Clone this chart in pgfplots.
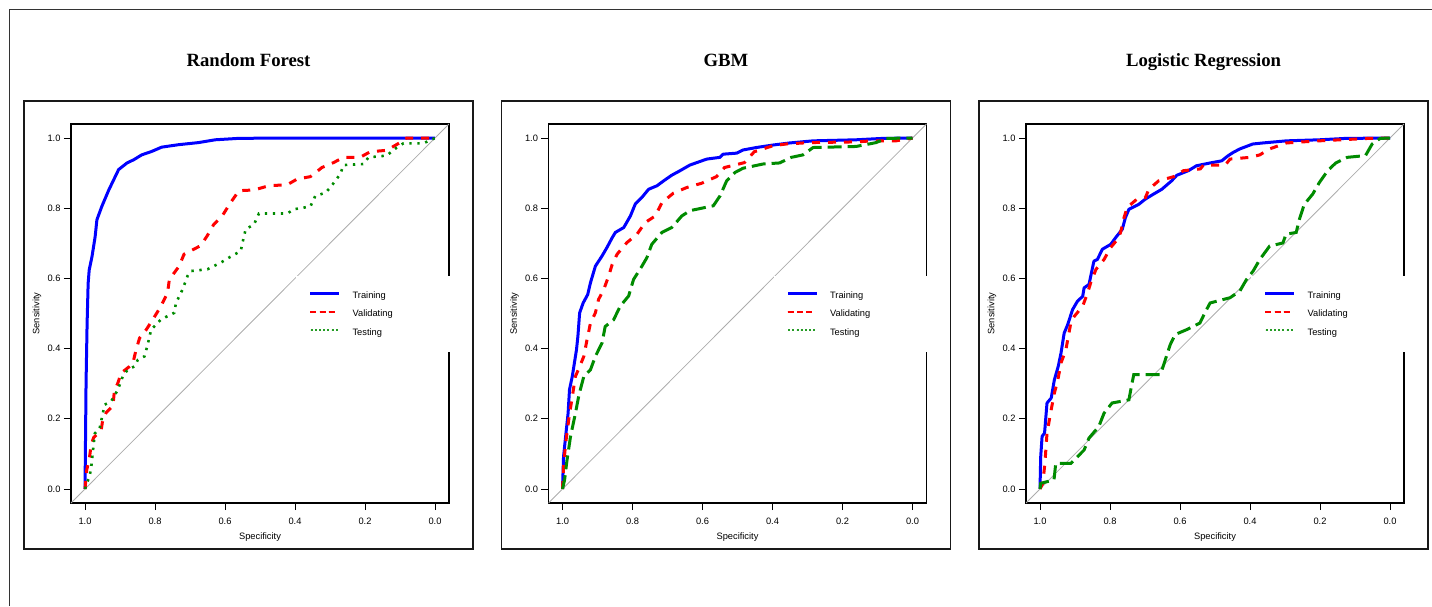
\documentclass[border=0pt]{standalone}
\usepackage{pgfplots}
\pgfplotsset{compat=1.18}
\usepackage{fontspec}
\setmainfont{Liberation Sans}
\newfontfamily\titlefont{Liberation Serif}
\definecolor{rblue}{RGB}{0,0,255}
\definecolor{rred}{RGB}{255,0,0}
\definecolor{rgreen}{RGB}{0,139,0}

\pgfplotsset{
  rocax/.style={
    width=378pt, height=379pt, scale only axis,
    anchor=south west,
    x dir=reverse,
    xmin=-0.04, xmax=1.04, ymin=-0.04, ymax=1.04,
    xtick={0,0.2,0.4,0.6,0.8,1}, xticklabels={0.0,0.2,0.4,0.6,0.8,1.0},
    ytick={0,0.2,0.4,0.6,0.8,1}, yticklabels={0.0,0.2,0.4,0.6,0.8,1.0},
    tick pos=left,
    tick align=outside, major tick length=7pt,
    tick style={black, line width=0.8pt},
    axis line style={line width=1.2pt, black},
    tick label style={font=\fontsize{9.3}{11}\selectfont},
    xticklabel style={yshift=-4pt},
    label style={font=\fontsize{9.3}{11}\selectfont},
    xlabel={Specificity}, ylabel={Sensitivity},
    xlabel style={at={(axis description cs:0.5,-0.0897)}, anchor=center},
    ylabel style={at={(axis description cs:-0.09,0.5)}, anchor=center},
    legend style={draw=none, fill=white, at={(0.5952,0.599)}, anchor=north west,
      inner xsep=14pt, inner ysep=15pt, row sep=9.5pt, column sep=14pt,
      font=\fontsize{9.3}{11}\selectfont,
      nodes={inner sep=0pt, text height=7pt, text depth=2pt}},
    legend cell align=left,
  },
  diag/.style={gray!65, line width=0.8pt, forget plot},
  trn/.style={draw=rblue, line width=3pt, line join=round, forget plot},
  val/.style={draw=rred, line width=3pt, dash pattern=on 8pt off 8pt, forget plot},
  tstdot/.style={draw=rgreen, line width=2.6pt, dash pattern=on 2.4pt off 5.6pt, forget plot},
  tstdash/.style={draw=rgreen, line width=3pt, dash pattern=on 14pt off 6pt, forget plot},
}
\newcommand{\rocleg}{%
  \addlegendimage{legend image code/.code={\fill[rblue] (0pt,1.85pt) rectangle (28pt,3.15pt);}}
  \addlegendentry{\makebox[84pt][l]{Training}}
  \addlegendimage{legend image code/.code={\fill[rred] (0pt,1.9pt) rectangle (5pt,3.1pt) (9.5pt,1.9pt) rectangle (14.5pt,3.1pt) (18.5pt,1.9pt) rectangle (23.5pt,3.1pt) (28pt,2.5pt) circle (0pt);}}
  \addlegendentry{\makebox[84pt][l]{Validating}}
  \addlegendimage{legend image code/.code={\fill[rgreen!85] (0.5pt,2pt) rectangle (1.5pt,3pt) (4.7pt,2pt) rectangle (5.7pt,3pt) (8.9pt,2pt) rectangle (9.9pt,3pt) (13.1pt,2pt) rectangle (14.1pt,3pt) (17.3pt,2pt) rectangle (18.3pt,3pt) (21.5pt,2pt) rectangle (22.5pt,3pt) (25.7pt,2pt) rectangle (26.7pt,3pt);}}
  \addlegendentry{\makebox[84pt][l]{Testing}}%
}

\begin{document}
\begin{tikzpicture}
\useasboundingbox (0pt,0pt) rectangle (1432pt,606pt);
\draw[line width=1pt, black!80] (9pt,0pt) -- (9pt,596pt) -- (1432pt,596pt);

% ---------- Random Forest ----------
\draw[line width=1.1pt, black!90] (24pt,57pt) rectangle (473pt,505pt);
\node[anchor=base, font=\titlefont\bfseries\fontsize{18.7}{22}\selectfont] at (248.5pt,539pt) {Random Forest};
\begin{axis}[rocax, at={(71pt,103pt)}]
\addplot[diag] coordinates {(1.04,-0.04) (-0.04,1.04)};
\addplot[trn] coordinates {(1,0) (0.999,0.09) (0.997,0.30) (0.994,0.471) (0.991,0.586) (0.988,0.624) (0.980,0.662) (0.971,0.719) (0.966,0.767) (0.952,0.805) (0.932,0.852) (0.918,0.881) (0.904,0.910) (0.880,0.929) (0.861,0.938) (0.838,0.952) (0.809,0.962) (0.781,0.974) (0.733,0.981) (0.676,0.987) (0.628,0.995) (0.562,0.999) (0.45,1) (0,1)};
\addplot[val] coordinates {(1,0) (0.995,0.054) (0.987,0.091) (0.982,0.128) (0.975,0.147) (0.954,0.166) (0.949,0.199) (0.939,0.218) (0.920,0.237) (0.916,0.280) (0.906,0.302) (0.897,0.330) (0.873,0.349) (0.863,0.359) (0.854,0.397) (0.844,0.430) (0.825,0.454) (0.806,0.483) (0.783,0.521) (0.764,0.559) (0.759,0.597) (0.731,0.635) (0.717,0.669) (0.670,0.693) (0.651,0.721) (0.632,0.754) (0.608,0.778) (0.584,0.816) (0.560,0.850) (0.517,0.852) (0.475,0.864) (0.422,0.867) (0.394,0.883) (0.356,0.890) (0.323,0.916) (0.290,0.930) (0.261,0.945) (0.214,0.945) (0.185,0.961) (0.138,0.965) (0.100,0.987) (0.090,0.997) (0.08,1) (0,1)};
\addplot[tstdot] coordinates {(1,0) (0.995,0.016) (0.987,0.035) (0.982,0.063) (0.977,0.111) (0.972,0.158) (0.958,0.173) (0.953,0.197) (0.944,0.240) (0.925,0.250) (0.906,0.283) (0.892,0.321) (0.878,0.340) (0.859,0.349) (0.849,0.368) (0.830,0.378) (0.821,0.411) (0.811,0.454) (0.783,0.483) (0.745,0.502) (0.740,0.530) (0.721,0.569) (0.707,0.607) (0.698,0.621) (0.650,0.626) (0.612,0.645) (0.589,0.659) (0.555,0.678) (0.551,0.697) (0.541,0.740) (0.517,0.754) (0.503,0.785) (0.422,0.785) (0.403,0.797) (0.356,0.805) (0.342,0.835) (0.313,0.844) (0.299,0.859) (0.285,0.878) (0.271,0.897) (0.261,0.923) (0.204,0.926) (0.190,0.945) (0.138,0.950) (0.109,0.973) (0.090,0.985) (0.033,0.985) (0,1)};
\rocleg
\end{axis}

% ---------- GBM ----------
\draw[line width=1.1pt, black!90] (501.5pt,57pt) rectangle (950.5pt,505pt);
\node[anchor=base, font=\titlefont\bfseries\fontsize{18.7}{22}\selectfont] at (726pt,539pt) {GBM};
\begin{axis}[rocax, at={(548.5pt,103pt)}]
\addplot[diag] coordinates {(1.04,-0.04) (-0.04,1.04)};
\addplot[trn] coordinates {(1,0) (0.997,0.092) (0.991,0.150) (0.984,0.216) (0.980,0.283) (0.972,0.321) (0.966,0.359) (0.960,0.397) (0.956,0.435) (0.951,0.502) (0.941,0.530) (0.928,0.554) (0.920,0.588) (0.906,0.635) (0.887,0.664) (0.873,0.688) (0.858,0.716) (0.849,0.731) (0.825,0.745) (0.806,0.778) (0.792,0.812) (0.773,0.831) (0.754,0.854) (0.730,0.864) (0.711,0.878) (0.688,0.894) (0.664,0.907) (0.636,0.923) (0.588,0.940) (0.550,0.945) (0.541,0.954) (0.502,0.957) (0.484,0.966) (0.446,0.973) (0.399,0.980) (0.351,0.986) (0.284,0.992) (0.161,0.995) (0.085,0.999) (0,1)};
\addplot[val] coordinates {(1,0) (0.997,0.064) (0.991,0.130) (0.981,0.206) (0.972,0.263) (0.963,0.321) (0.953,0.344) (0.939,0.378) (0.930,0.425) (0.920,0.473) (0.906,0.502) (0.897,0.540) (0.882,0.569) (0.868,0.607) (0.858,0.640) (0.844,0.669) (0.816,0.702) (0.787,0.726) (0.764,0.759) (0.735,0.778) (0.716,0.816) (0.683,0.843) (0.645,0.859) (0.603,0.871) (0.560,0.890) (0.537,0.916) (0.480,0.930) (0.452,0.961) (0.399,0.978) (0.361,0.983) (0.294,0.987) (0.161,0.989) (0.114,0.992) (0.047,0.992) (0,1)};
\addplot[tstdash] coordinates {(1,0) (0.994,0.026) (0.987,0.083) (0.977,0.150) (0.963,0.216) (0.953,0.268) (0.939,0.321) (0.920,0.340) (0.906,0.378) (0.887,0.416) (0.878,0.463) (0.854,0.482) (0.835,0.521) (0.811,0.550) (0.797,0.597) (0.773,0.635) (0.759,0.659) (0.745,0.697) (0.716,0.731) (0.688,0.745) (0.659,0.778) (0.636,0.793) (0.569,0.807) (0.550,0.835) (0.531,0.878) (0.507,0.902) (0.484,0.914) (0.427,0.926) (0.380,0.929) (0.346,0.945) (0.313,0.952) (0.284,0.973) (0.161,0.976) (0.104,0.987) (0.075,0.999) (0,1)};
\rocleg
\end{axis}

% ---------- Logistic Regression ----------
\draw[line width=1.1pt, black!90] (979pt,57pt) rectangle (1428pt,505pt);
\node[anchor=base, font=\titlefont\bfseries\fontsize{18.7}{22}\selectfont] at (1203.5pt,539pt) {Logistic Regression};
\begin{axis}[rocax, at={(1026pt,103pt)}]
\addplot[diag] coordinates {(1.04,-0.04) (-0.04,1.04)};
\addplot[trn] coordinates {(1,0) (0.998,0.092) (0.994,0.150) (0.987,0.159) (0.980,0.245) (0.968,0.259) (0.959,0.311) (0.948,0.349) (0.940,0.387) (0.931,0.444) (0.921,0.468) (0.907,0.511) (0.893,0.535) (0.878,0.549) (0.874,0.573) (0.860,0.583) (0.846,0.649) (0.836,0.654) (0.822,0.683) (0.798,0.697) (0.784,0.716) (0.765,0.740) (0.756,0.773) (0.746,0.797) (0.718,0.811) (0.699,0.826) (0.676,0.840) (0.652,0.854) (0.624,0.878) (0.609,0.894) (0.576,0.907) (0.553,0.921) (0.514,0.929) (0.481,0.935) (0.462,0.950) (0.448,0.959) (0.429,0.969) (0.392,0.983) (0.363,0.986) (0.296,0.992) (0.202,0.995) (0.126,0.999) (0,1)};
\addplot[val] coordinates {(1,0) (0.992,0.016) (0.986,0.073) (0.980,0.159) (0.968,0.226) (0.959,0.273) (0.949,0.311) (0.940,0.359) (0.926,0.397) (0.912,0.473) (0.902,0.492) (0.878,0.521) (0.864,0.559) (0.855,0.588) (0.840,0.626) (0.817,0.654) (0.798,0.688) (0.779,0.711) (0.770,0.730) (0.760,0.773) (0.751,0.802) (0.723,0.826) (0.699,0.830) (0.689,0.854) (0.661,0.878) (0.618,0.890) (0.590,0.907) (0.542,0.912) (0.533,0.923) (0.471,0.923) (0.457,0.940) (0.400,0.945) (0.372,0.952) (0.344,0.969) (0.296,0.986) (0.202,0.992) (0.060,0.999) (0,1)};
\addplot[tstdash] coordinates {(1,0) (0.998,0.016) (0.960,0.026) (0.955,0.073) (0.912,0.073) (0.893,0.092) (0.874,0.111) (0.860,0.145) (0.832,0.178) (0.817,0.216) (0.794,0.245) (0.746,0.254) (0.737,0.302) (0.732,0.326) (0.656,0.326) (0.642,0.368) (0.628,0.411) (0.614,0.440) (0.581,0.454) (0.543,0.473) (0.529,0.502) (0.514,0.530) (0.457,0.545) (0.429,0.564) (0.410,0.597) (0.391,0.621) (0.372,0.654) (0.344,0.692) (0.306,0.701) (0.297,0.726) (0.268,0.731) (0.259,0.768) (0.245,0.811) (0.221,0.840) (0.202,0.873) (0.178,0.907) (0.155,0.929) (0.122,0.945) (0.070,0.950) (0.051,0.983) (0.028,0.999) (0,1)};
\rocleg
\end{axis}
\end{tikzpicture}
\end{document}
